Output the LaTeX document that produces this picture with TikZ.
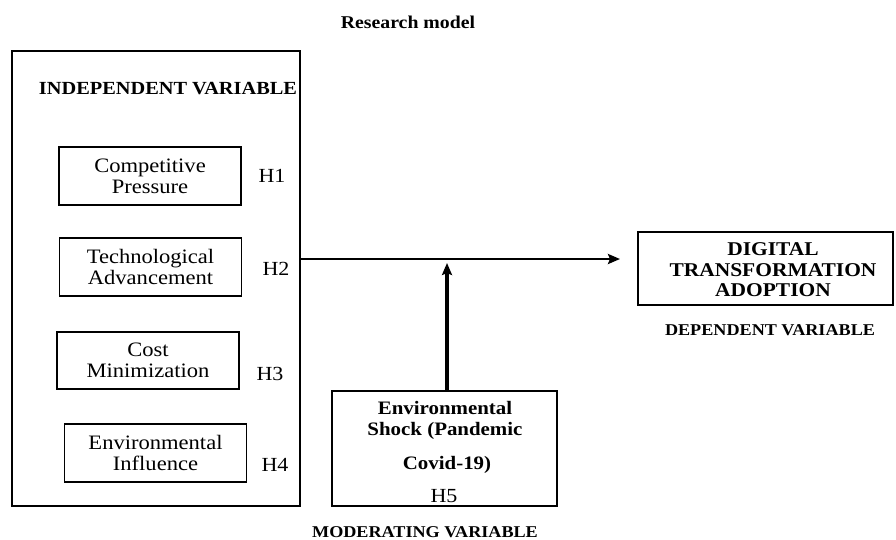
\documentclass[tikz,border=0pt]{standalone}
\usepackage{fontspec}
\setmainfont{Liberation Serif}[FakeStretch=1.1]
\usetikzlibrary{arrows.meta}
\begin{document}
\begin{tikzpicture}[x=1pt,y=-1pt,
  box/.style={draw,line width=1.4pt,align=center,inner sep=0pt,minimum width=182pt,minimum height=58pt,font=\fontsize{20.5}{21}\selectfont},
  hyp/.style={font=\fontsize{20}{21}\selectfont,inner sep=0pt,anchor=base},
  lbl/.style={font=\bfseries\fontsize{16.5}{18}\selectfont,inner sep=0pt,anchor=base},
  conn/.style={line width=2.7pt,-{Stealth[length=12pt,width=10pt,inset=2pt]}}]
\useasboundingbox (0,0) rectangle (896,539);
% title
\node[font=\bfseries\fontsize{18}{20}\selectfont,inner sep=0pt,anchor=base] (title) at (408,28) {Research model};
% outer box
\node[draw,line width=1.6pt,minimum width=288pt,minimum height=455pt,inner sep=0pt] (outer) at (156,278.5) {};
\node[font=\bfseries\fontsize{18.5}{20}\selectfont,inner sep=0pt,anchor=base] (indep) at (168,94) {INDEPENDENT VARIABLE};
% factor boxes
\node[box] (cp) at (150,176) {Competitive\\Pressure};
\node[box] (ta) at (150.5,267) {Technological\\Advancement};
\node[box,minimum height=57pt] (cm) at (148,360.5) {Cost\\Minimization};
\node[box] (ei) at (155.5,453) {Environmental\\Influence};
\node[hyp] (h1) at (272,182) {H1};
\node[hyp] (h2) at (276,275) {H2};
\node[hyp] (h3) at (270,380) {H3};
\node[hyp] (h4) at (275,471) {H4};
% dependent
\node[draw,line width=1.4pt,minimum width=255pt,minimum height=73pt,inner sep=0pt] (dt) at (765.5,268.5) {};
\node[font=\bfseries\fontsize{19.5}{20.5}\selectfont,align=center,inner sep=0pt] (dttext) at (773,270) {DIGITAL\\TRANSFORMATION\\ADOPTION};
\node[lbl] (dep) at (770,335) {DEPENDENT VARIABLE};
% moderating
\node[draw,line width=1.4pt,minimum width=225pt,minimum height=115pt,inner sep=0pt] (shock) at (444.5,448.5) {};
\node[font=\bfseries\fontsize{19}{21}\selectfont,inner sep=0pt,anchor=base] (s1) at (445,414) {Environmental};
\node[font=\bfseries\fontsize{19}{21}\selectfont,inner sep=0pt,anchor=base] (s2) at (445,435) {Shock (Pandemic};
\node[font=\bfseries\fontsize{19}{21}\selectfont,inner sep=0pt,anchor=base] (s3) at (447,469) {Covid-19)};
\node[hyp] (h5) at (444,502) {H5};
\node[lbl] (mod) at (425,537) {MODERATING VARIABLE};
% connectors
\coordinate (hend) at (620,259);
\coordinate (vtop) at (447,263);
\draw[conn] (outer.east |- hend) -- (hend);
\draw[conn,line width=3.3pt] (shock.north -| vtop) -- (vtop);
\end{tikzpicture}
\end{document}
